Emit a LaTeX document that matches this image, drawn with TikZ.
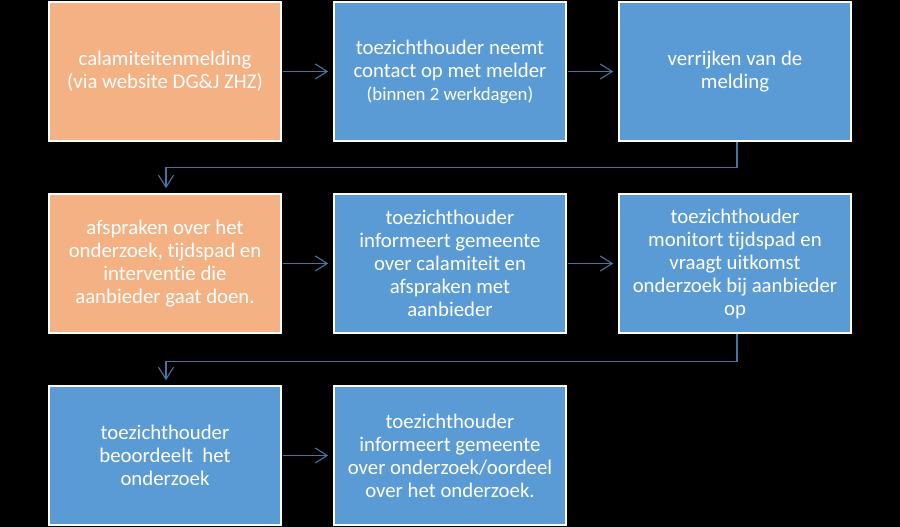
\documentclass[tikz,border=0pt]{standalone}
\usepackage{fontspec}
\setmainfont{Carlito}[Ligatures={NoCommon}]
\usetikzlibrary{arrows.meta,calc}
\definecolor{boxorange}{RGB}{244,177,131}
\definecolor{boxblue}{RGB}{91,155,213}
\definecolor{connblue}{RGB}{72,116,160}
\tikzset{
  flowbox/.style={draw=white, line width=1.5pt, minimum width=232pt, minimum height=139pt,
    inner sep=2pt, align=center, text=white, font=\fontsize{20.8}{23}\selectfont},
  orangebox/.style={flowbox, fill=boxorange},
  bluebox/.style={flowbox, fill=boxblue},
  conn/.style={draw=connblue, line width=1.1pt, -{Straight Barb[length=12pt,width=15pt,line width=1.1pt]}, shorten >=5pt, shorten <=1pt}
}
\begin{document}
\begin{tikzpicture}[x=1pt,y=-1pt]
\fill[black] (0,0) rectangle (900,527);
\useasboundingbox (0,0) rectangle (900,527);
\node[orangebox] (b1) at (165,71.5) {calamiteitenmelding\\(via website DG\&J ZHZ)};
\node[bluebox] (b2) at (450,71.5) {toezichthouder neemt\\contact op met melder\\{\fontsize{18.8}{23}\selectfont (binnen 2 werkdagen)}};
\node[bluebox] (b3) at (735,71.5) {verrijken van de\\melding};
\node[orangebox] (b4) at (165,263.5) {afspraken over het\\onderzoek, tijdspad en\\interventie die\\aanbieder gaat doen.};
\node[bluebox] (b5) at (450,263.5) {toezichthouder\\informeert gemeente\\over calamiteit en\\afspraken met\\aanbieder};
\node[bluebox] (b6) at (735,263.5) {toezichthouder\\monitort tijdspad en\\vraagt uitkomst\\onderzoek bij aanbieder\\op};
\node[bluebox] (b7) at (165,455.5) {toezichthouder\\beoordeelt\ \ het\\onderzoek};
\node[bluebox] (b8) at (450,455.5) {toezichthouder\\informeert gemeente\\over onderzoek/oordeel\\over het onderzoek.};
\draw[conn] (b1.east) -- (b2.west);
\draw[conn] (b2.east) -- (b3.west);
\draw[conn] (b4.east) -- (b5.west);
\draw[conn] (b5.east) -- (b6.west);
\draw[conn] (b7.east) -- (b8.west);
\draw[conn, shorten <=0pt] ([xshift=2pt]b3.south) -- ++(0,25.5) -| ([xshift=1pt]b4.north);
\draw[conn, shorten <=0pt] ([xshift=2pt]b6.south) -- ++(0,27.5) -| ([xshift=1pt]b7.north);
\end{tikzpicture}
\end{document}
